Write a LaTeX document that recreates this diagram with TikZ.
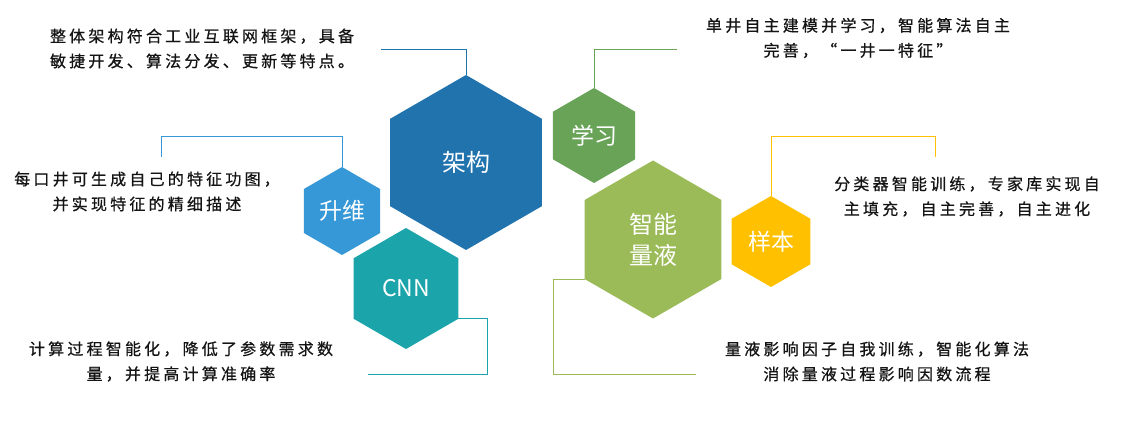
\documentclass[tikz,border=0pt]{standalone}
\usepackage{fontspec}
\setmainfont{Noto Sans CJK SC}
\newfontfamily\desc[LetterSpace=20,FakeBold=0.6]{Noto Sans CJK SC}
\usetikzlibrary{shapes.geometric}
\definecolor{cJG}{RGB}{33,115,174}
\definecolor{cSW}{RGB}{55,152,216}
\definecolor{cCNN}{RGB}{27,164,170}
\definecolor{cXX}{RGB}{104,163,88}
\definecolor{cZN}{RGB}{155,187,89}
\definecolor{cYB}{RGB}{255,192,0}
\definecolor{txt}{RGB}{20,20,20}
\tikzset{
  hexa/.style={regular polygon, regular polygon sides=6, shape border rotate=30,
    inner sep=0pt, outer sep=0pt, draw=none, text=white, align=center},
  desctext/.style={text=txt, font=\desc\fontsize{16}{25}\selectfont, inner sep=0pt},
  conn/.style={line width=0.9pt}
}
\begin{document}
\begin{tikzpicture}[x=1pt,y=-1pt]
\useasboundingbox (0,0) rectangle (1130,422);
% hexagons
\node[hexa, fill=cJG, minimum size=175pt, font=\fontsize{24}{30}\selectfont] (jg) at (466,162.5) {架构};
\node[hexa, fill=cSW, minimum size=88pt, font=\fontsize{23}{26}\selectfont] (sw) at (342,211) {升维};
\node[hexa, fill=cCNN, minimum size=121pt, font=\fontsize{23}{26}\selectfont] (cnn) at (406,288.5) {CNN};
\node[hexa, fill=cXX, minimum size=95pt, font=\fontsize{23}{26}\selectfont] (xx) at (594,135.5) {学习};
\node[hexa, fill=cZN, minimum size=158pt, font=\fontsize{24}{31}\selectfont] (zn) at (653,239.5) {智能\\量液};
\node[hexa, fill=cYB, minimum size=91pt, font=\fontsize{23}{26}\selectfont] (yb) at (771,241.5) {样本};
% texts
\node[desctext, align=left] (t1) at (202,48.5) {整体架构符合工业互联网框架，具备\\敏捷开发、算法分发、更新等特点。};
\node[desctext, align=center] (t2) at (147,191.5) {每口井可生成自己的特征功图，\\并实现特征的精细描述};
\node[desctext, align=center] (t3) at (858,38) {单井自主建模并学习，智能算法自主\\完善，“一井一特征”};
\node[desctext, align=center] (t4) at (967,196.5) {分类器智能训练，专家库实现自\\主填充，自主完善，自主进化};
\node[desctext, align=center] (t5) at (181,361.5) {计算过程智能化，降低了参数需求数\\量，并提高计算准确率};
\node[desctext, align=center] (t6) at (877,361.5) {量液影响因子自我训练，智能化算法\\消除量液过程影响因数流程};
% connector endpoints
\coordinate (e1) at (381,49);
\coordinate (e2) at (161,157);
\coordinate (e3) at (677,49);
\coordinate (e4) at (935,157);
\coordinate (e5) at (368,374);
\coordinate (e6) at (696,374);
% connectors
\draw[conn, cJG] (jg.90) |- (e1);
\draw[conn, cSW] (sw.90) -- ++(0,-31) -| (e2);
\draw[conn, cXX] (xx.90) |- (e3);
\draw[conn, cYB] (yb.90) -- ++(0,-60) -| (e4);
\draw[conn, cCNN] (cnn.-30) -- ++(29,0) |- (e5);
\draw[conn, cZN] (zn.210) -- ++(-31,0) |- (e6);
\end{tikzpicture}
\end{document}
